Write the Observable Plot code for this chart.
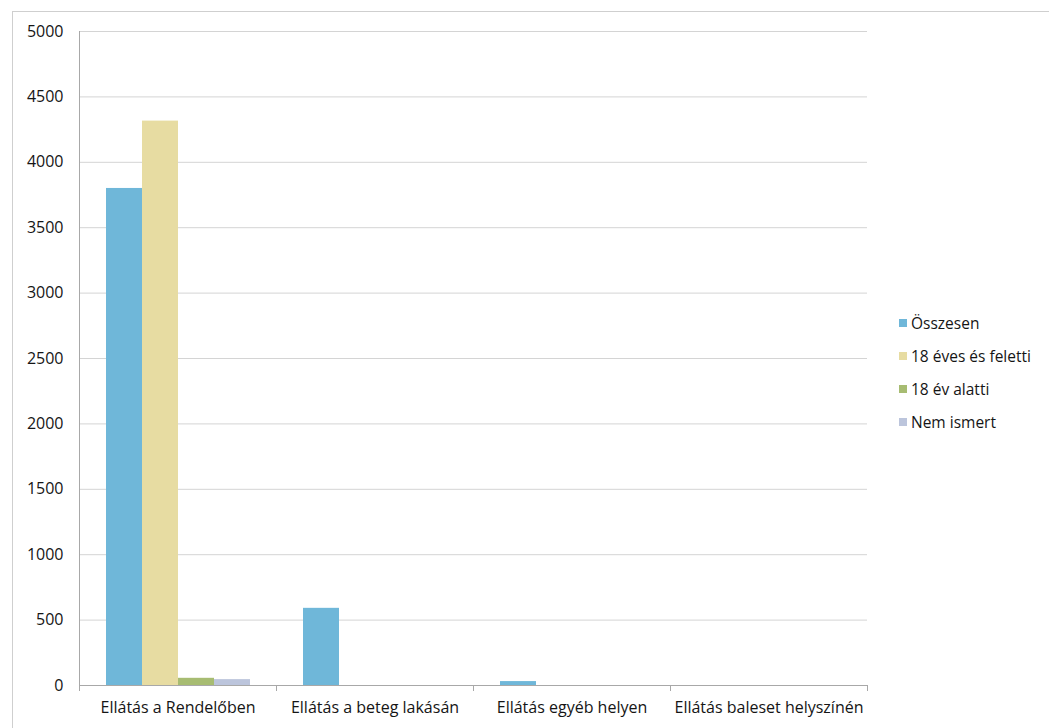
<!DOCTYPE html>
<html>
<head>
<meta charset="utf-8">
<script src="https://cdn.jsdelivr.net/npm/d3@7"></script>
<script src="https://cdn.jsdelivr.net/npm/@observablehq/plot@0.6"></script>
<style>
  body { margin: 0; background: #fff; font-family: "Open Sans", sans-serif; }
  #wrap { position: relative; width: 1049px; height: 728px; overflow: hidden; }
  #border { position: absolute; left: 12px; top: 11px; width: 1100px; height: 800px; border-left: 1px solid #cfcfcf; border-top: 1px solid #cfcfcf; }
  #chart { position: absolute; left: 0; top: 0; }
  #legend { position: absolute; left: 899px; top: 306px; font-size: 15.5px; color: #151515; }
  .item { display: flex; align-items: center; height: 33px; }
  .sw { width: 8px; height: 8px; margin-right: 4px; }
</style>
</head>
<body>
<div id="wrap">
  <div id="border"></div>
  <div id="chart"></div>
  <div id="legend"></div>
</div>
<script>
const categories = ["Ellátás a Rendelőben", "Ellátás a beteg lakásán", "Ellátás egyéb helyen", "Ellátás baleset helyszínén"];
const series = ["Összesen", "18 éves és feletti", "18 év alatti", "Nem ismert"];
const osszesen = [3800, 590, 30, 0];
const felett18 = [4315, 0, 0, 0];
const alatt18 = [55, 0, 0, 0];
const nemIsmert = [45, 0, 0, 0];
const yTicks = [0, 500, 1000, 1500, 2000, 2500, 3000, 3500, 4000, 4500, 5000];
const colors = ["#6fb7d9", "#e7dca2", "#a7bc72", "#bcc5dc"];

const seriesValues = [osszesen, felett18, alatt18, nemIsmert];
const data = [];
categories.forEach((c, i) => {
  series.forEach((s, j) => {
    data.push({category: c, series: s, value: seriesValues[j][i]});
  });
});

const chart = Plot.plot({
  width: 1049,
  height: 728,
  marginLeft: 77,
  marginRight: 181,
  marginTop: 31,
  marginBottom: 43,
  style: {fontFamily: "Open Sans, sans-serif", fontSize: "16px", color: "#151515", background: "transparent"},
  fx: {domain: categories, padding: 0, label: null},
  x: {domain: series, paddingInner: 0, paddingOuter: 0.68, axis: null},
  y: {domain: [0, 5000], label: null},
  color: {domain: series, range: colors},
  marks: [
    Plot.gridY(yTicks, {stroke: "#d4d4d4", strokeOpacity: 1}),
    Plot.barY(data, {fx: "category", x: "series", y: "value", fill: "series"}),
    Plot.ruleY([0], {stroke: "#a8a8a8"}),
    Plot.frame({anchor: "left", stroke: "#a8a8a8", facet: "super"}),
    Plot.frame({anchor: "left", stroke: "#a8a8a8", insetTop: 654, insetBottom: -5}),
    Plot.frame({anchor: "right", stroke: "#a8a8a8", insetTop: 654, insetBottom: -5}),
    Plot.axisY(yTicks, {tickSize: 0, tickPadding: 16, fill: "#151515", fontSize: 16, tickFormat: d3.format("d"), label: null}),
    Plot.axisFx({anchor: "bottom", tickSize: 0, tickPadding: 16, fill: "#151515", fontSize: 16, label: null})
  ]
});
document.getElementById("chart").appendChild(chart);

const legend = document.getElementById("legend");
series.forEach((s, j) => {
  const row = document.createElement("div");
  row.className = "item";
  const sw = document.createElement("span");
  sw.className = "sw";
  sw.style.background = colors[j];
  const t = document.createElement("span");
  t.textContent = s;
  row.appendChild(sw);
  row.appendChild(t);
  legend.appendChild(row);
});
</script>
</body>
</html>
